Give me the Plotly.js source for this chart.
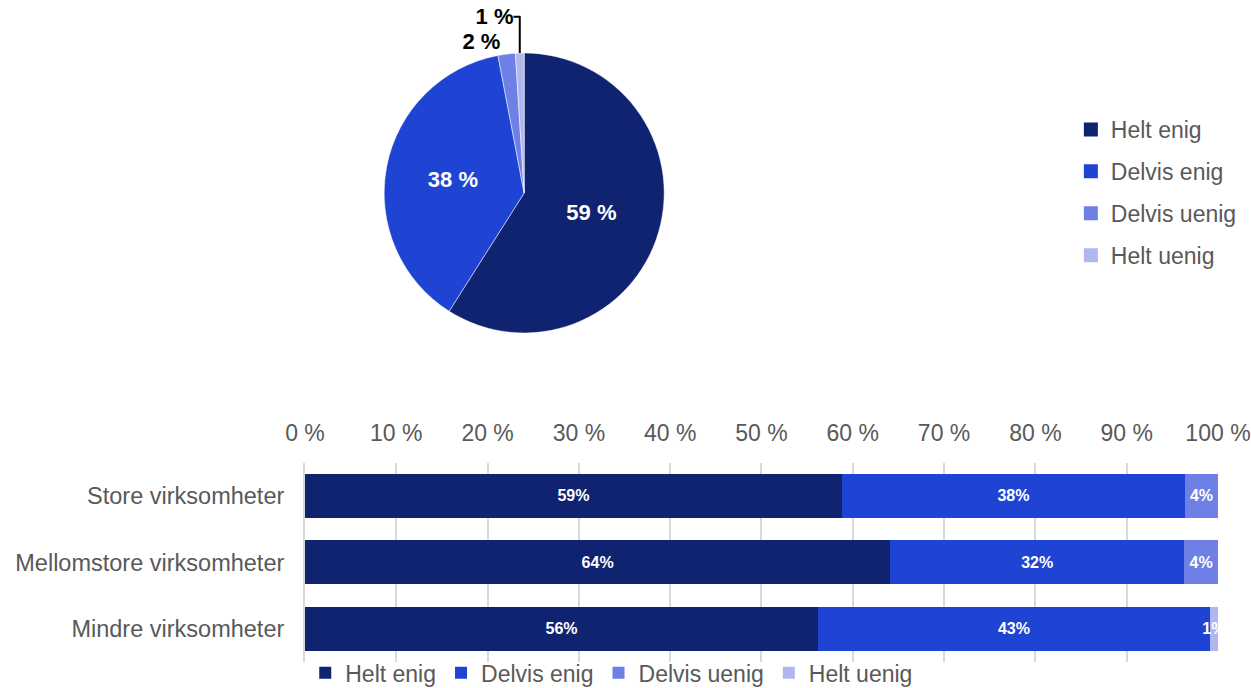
<!DOCTYPE html>
<html>
<head>
<meta charset="utf-8">
<script src="https://cdn.plot.ly/plotly-3.0.1.min.js"></script>
<style>html,body{margin:0;padding:0;background:#fff;}#chart{width:1251px;height:688px;}</style>
</head>
<body>
<div id="chart"></div>
<script>
// ---- data ----
const answers = ["Helt enig", "Delvis enig", "Delvis uenig", "Helt uenig"];
const colors = ["#0F2370", "#1F44D4", "#6E7FE6", "#B0B7EE"];
const pieValues = [59, 38, 2, 1];
const groups = ["Store virksomheter", "Mellomstore virksomheter", "Mindre virksomheter"];
const heltEnig = [58.8, 64.1, 56.2];
const delvisEnig = [37.6, 32.2, 42.9];
const delvisUenig = [3.6, 3.7, 0.0];
const heltUenig = [0.0, 0.0, 0.9];
const barLabels = [
  ["59%", "64%", "56%"],
  ["38%", "32%", "43%"],
  ["4%", "4%", ""],
  ["", "", "1%"]
];
const xTicks = [0, 10, 20, 30, 40, 50, 60, 70, 80, 90, 100];

const FONT = "Liberation Sans, Arial, sans-serif";
const GRAY = "#595959";
const series = [heltEnig, delvisEnig, delvisUenig, heltUenig];

const traces = [];
traces.push({
  type: "pie",
  labels: answers,
  values: pieValues,
  sort: false,
  direction: "clockwise",
  rotation: 0,
  marker: {colors: colors, line: {color: "#ffffff", width: 0.5}},
  texttemplate: "%{value} %",
  textposition: ["inside", "inside", "outside", "outside"],
  insidetextorientation: "horizontal",
  textfont: {family: FONT, size: 22, color: ["#ffffff", "#ffffff", "#000000", "#000000"], weight: "bold"},
  hoverinfo: "label+percent",
  showlegend: false,
  domain: {x: [0.307, 0.531], y: [0.516, 0.923]}
});

answers.forEach((name, i) => {
  traces.push({
    type: "bar",
    orientation: "h",
    name: name,
    y: groups,
    x: series[i],
    text: barLabels[i],
    textposition: "inside",
    insidetextanchor: "middle",
    constraintext: "none",
    textangle: 0,
    cliponaxis: true,
    textfont: {family: FONT, size: 16, color: "#ffffff", weight: "bold"},
    marker: {color: colors[i], line: {width: 0}},
    legend: "legend2",
    showlegend: true
  });
});

// vertical legend entries for the pie
answers.forEach((name, i) => {
  traces.push({
    type: "scatter",
    mode: "markers",
    name: name,
    x: [null], y: [null],
    marker: {symbol: "square", size: 14, color: colors[i]},
    legend: "legend",
    legendgroup: "g" + i,
    showlegend: true,
    hoverinfo: "skip"
  });
});

const layout = {
  width: 1251, height: 688,
  margin: {l: 0, r: 0, t: 0, b: 0, autoexpand: false},
  paper_bgcolor: "#ffffff",
  plot_bgcolor: "#ffffff",
  font: {family: FONT, size: 23, color: GRAY},
  barmode: "stack",
  bargap: 0.34,
  xaxis: {
    domain: [0.2438, 0.9736],
    anchor: "y",
    side: "top",
    range: [0, 100],
    tickvals: xTicks,
    ticktext: xTicks.map(v => v + " %"),
    tickfont: {family: FONT, size: 23, color: GRAY},
    ticklabelstandoff: 16,
    showgrid: true,
    gridcolor: "#D9D9D9",
    gridwidth: 2,
    zeroline: false,
    showline: false,
    ticks: "",
    fixedrange: true,
    automargin: false
  },
  yaxis: {
    domain: [0.0375, 0.3275],
    anchor: "x",
    autorange: "reversed",
    type: "category",
    tickfont: {family: FONT, size: 23.5, color: GRAY},
    ticklabelstandoff: 14,
    ticks: "",
    ticklen: 0,
    showline: true,
    linecolor: "#D9D9D9",
    linewidth: 2,
    showgrid: false,
    zeroline: false,
    fixedrange: true,
    automargin: false
  },
  legend: {
    x: 0.856, y: 0.843, xanchor: "left", yanchor: "top",
    orientation: "v",
    tracegroupgap: 9,
    font: {family: FONT, size: 23, color: GRAY},
    bgcolor: "rgba(0,0,0,0)",
    itemclick: false, itemdoubleclick: false
  },
  legend2: {
    x: 0.244, y: -0.009, xanchor: "left", yanchor: "bottom",
    orientation: "h",
    font: {family: FONT, size: 23, color: GRAY},
    bgcolor: "rgba(0,0,0,0)",
    traceorder: "normal",
    itemclick: false, itemdoubleclick: false
  },
  showlegend: true
};

Plotly.newPlot("chart", traces, layout, {displayModeBar: false, staticPlot: true});
</script>
</body>
</html>
